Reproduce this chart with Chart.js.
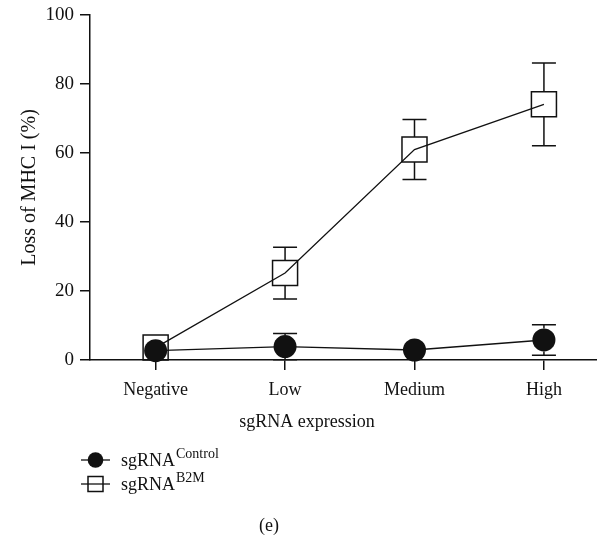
<!DOCTYPE html>
<html>
<head>
<meta charset="utf-8">
<script src="https://cdn.jsdelivr.net/npm/chart.js@4"></script>
<style>
  html, body { margin: 0; padding: 0; background: #fff; }
  #wrap { width: 597px; height: 539px; position: relative; }
</style>
</head>
<body>
<div id="wrap"><canvas id="myChart" width="597" height="539"></canvas></div>
<script>
const categories = ["Negative", "Low", "Medium", "High"];
const controlMean = [2.7, 3.9, 2.9, 5.8];
const controlErr = [0, 3.8, 0, 4.4];
const b2mMean = [3.6, 25.2, 61.0, 74.1];
const b2mErr = [0, 7.5, 8.7, 12.0];
const yTicks = [0, 20, 40, 60, 80, 100];

const ink = "#111";
const serif = "'Liberation Serif', 'DejaVu Serif', serif";

function toPoints(vals) {
    return vals.map((v, i) => ({ x: i, y: v }));
}

// error bars drawn from the marker edge out to the caps
const errorBars = {
    id: "errorBars",
    afterDatasetsDraw(chart) {
        const ctx = chart.ctx;
        const x = chart.scales.x, y = chart.scales.y;
        const sets = [
            { mean: controlMean, err: controlErr, half: 11.5 },
            { mean: b2mMean, err: b2mErr, half: 12.5 },
        ];
        ctx.save();
        ctx.strokeStyle = ink;
        ctx.lineWidth = 1.5;
        sets.forEach(s => {
            s.mean.forEach((m, i) => {
                if (!s.err[i]) return;
                const px = x.getPixelForValue(i);
                const pc = y.getPixelForValue(m);
                const pt = y.getPixelForValue(m + s.err[i]);
                const pb = y.getPixelForValue(m - s.err[i]);
                ctx.beginPath();
                if (pt < pc - s.half) {
                    ctx.moveTo(px, pt); ctx.lineTo(px, pc - s.half);
                }
                if (pb > pc + s.half) {
                    ctx.moveTo(px, pc + s.half); ctx.lineTo(px, pb);
                }
                ctx.moveTo(px - 12, pt); ctx.lineTo(px + 12, pt);
                ctx.moveTo(px - 12, pb); ctx.lineTo(px + 12, pb);
                ctx.stroke();
            });
        });
        ctx.restore();
    }
};

// x title, legend with superscripts, panel label
const extras = {
    id: "extras",
    afterDraw(chart) {
        const ctx = chart.ctx;
        ctx.save();
        ctx.strokeStyle = ink;
        ctx.fillStyle = ink;

        ctx.font = "18px " + serif;
        ctx.textAlign = "center";
        ctx.textBaseline = "middle";
        ctx.fillText("sgRNA expression", 307, 422);

        ctx.lineWidth = 1.3;
        const rows = [
            { y: 460, sup: "Control", filled: true },
            { y: 484, sup: "B2M", filled: false },
        ];
        rows.forEach(r => {
            ctx.beginPath();
            ctx.moveTo(81, r.y); ctx.lineTo(110, r.y);
            ctx.stroke();
            if (r.filled) {
                ctx.beginPath();
                ctx.arc(95.5, r.y, 7.8, 0, Math.PI * 2);
                ctx.fill();
            } else {
                ctx.lineWidth = 1.5;
                ctx.strokeRect(88, r.y - 7.5, 15, 15);
                ctx.lineWidth = 1.3;
            }
            ctx.font = "18px " + serif;
            ctx.textBaseline = "alphabetic";
            ctx.textAlign = "left";
            ctx.fillText("sgRNA", 121, r.y + 6);
            const w = ctx.measureText("sgRNA").width;
            ctx.font = "14px " + serif;
            ctx.fillText(r.sup, 121 + w + 1, r.y - 2);
        });
        ctx.font = "18px " + serif;
        ctx.textAlign = "center";
        ctx.textBaseline = "middle";
        ctx.fillText("(e)", 269, 526);
        ctx.restore();
    }
};

const config = {
    type: "line",
    data: {
        datasets: [
            {
                label: "sgRNA Control",
                data: toPoints(controlMean),
                borderColor: ink,
                borderWidth: 1.3,
                pointStyle: "circle",
                pointRadius: 11.5,
                pointBackgroundColor: ink,
                pointBorderColor: ink,
                pointBorderWidth: 0,
                tension: 0,
                clip: false,
            },
            {
                label: "sgRNA B2M",
                data: toPoints(b2mMean),
                borderColor: ink,
                borderWidth: 1.3,
                pointStyle: "rect",
                pointRadius: 17.7,
                pointBackgroundColor: "rgba(0,0,0,0)",
                pointBorderColor: ink,
                pointBorderWidth: 1.5,
                tension: 0,
                clip: false,
            },
        ],
    },
    options: {
        responsive: false,
        animation: false,
        events: [],
        layout: { autoPadding: false, padding: { top: 15, right: 0, bottom: 99, left: 0 } },
        plugins: {
            legend: { display: false },
            tooltip: { enabled: false },
        },
        scales: {
            x: {
                type: "linear",
                min: -0.507,
                max: 3.41,
                afterBuildTicks: scale => {
                    scale.ticks = categories.map((_, i) => ({ value: i }));
                },
                afterFit: scale => {
                    scale.height = 80;
                    scale.paddingLeft = 0;
                    scale.paddingRight = 0;
                },
                border: { display: true, color: ink, width: 1.5 },
                grid: { drawOnChartArea: false, drawTicks: true, tickLength: 10, color: ink, lineWidth: 1.5 },
                ticks: {
                    color: ink,
                    font: { family: serif, size: 18 },
                    padding: 9,
                    maxRotation: 0,
                    callback: v => categories[v],
                },
            },
            y: {
                min: 0,
                max: 100,
                afterBuildTicks: scale => {
                    scale.ticks = yTicks.map(v => ({ value: v }));
                },
                afterFit: scale => {
                    scale.width = 90;
                    scale.paddingTop = 0;
                    scale.paddingBottom = 0;
                },
                border: { display: true, color: ink, width: 1.5 },
                grid: { drawOnChartArea: false, drawTicks: true, tickLength: 10, color: ink, lineWidth: 1.5 },
                ticks: {
                    color: ink,
                    font: { family: serif, size: 19 },
                    padding: 6,
                },
                title: {
                    display: true,
                    text: "Loss of MHC I (%)",
                    color: ink,
                    font: { family: serif, size: 20 },
                    padding: { top: 18, bottom: 0 },
                },
            },
        },
    },
    plugins: [errorBars, extras],
};

const myChart = new Chart(document.getElementById("myChart").getContext("2d"), config);
</script>
</body>
</html>
